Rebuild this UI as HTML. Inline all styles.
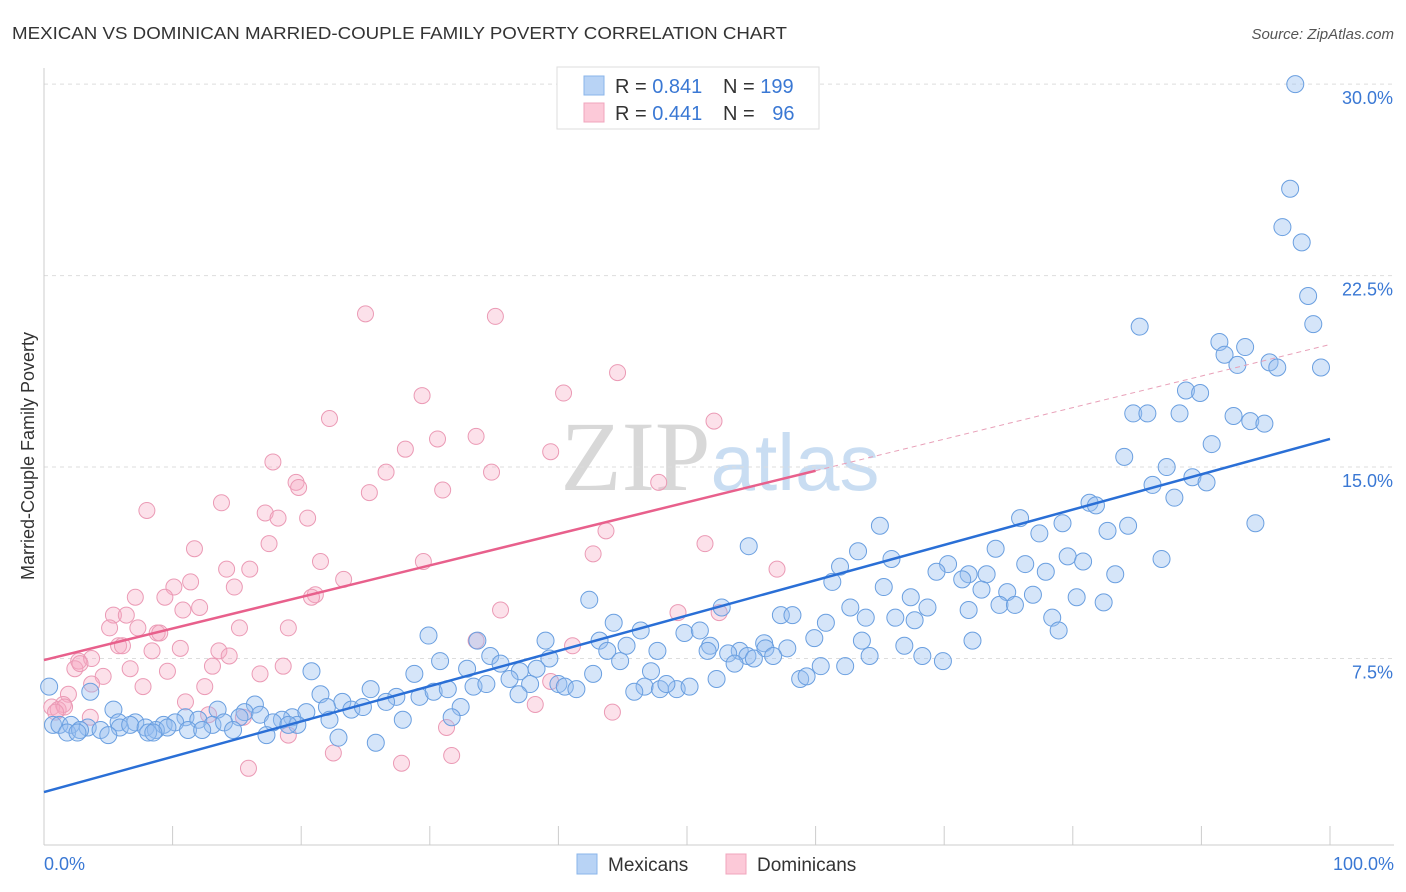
<!DOCTYPE html>
<html><head><meta charset="utf-8"><style>
body{margin:0;background:#fff;font-family:"Liberation Sans",sans-serif;}
</style></head><body>
<svg id="chart" width="1406" height="892" xmlns="http://www.w3.org/2000/svg" style="display:block">
<text x="12" y="39" font-size="17.5" fill="#333" textLength="775" lengthAdjust="spacingAndGlyphs">MEXICAN VS DOMINICAN MARRIED-COUPLE FAMILY POVERTY CORRELATION CHART</text>
<text x="1394" y="39" font-size="15" fill="#555" font-style="italic" text-anchor="end">Source: ZipAtlas.com</text>
<text x="720" y="490" font-size="100" fill="#ddd" text-anchor="middle" font-family="Liberation Serif"><tspan fill="#d8d8d8">ZIP</tspan><tspan font-family="Liberation Sans" fill="#c9ddf2" font-size="80">atlas</tspan></text>
<text transform="translate(34,456) rotate(-90)" font-size="18" fill="#333" text-anchor="middle">Married-Couple Family Poverty</text>
<g id="grid"></g><g id="axes"></g><g id="pink"></g><g id="blue"></g><g id="lines"></g>
<g>
<rect x="557" y="67" width="262" height="62" fill="#fff" stroke="#ddd"/>
<rect x="584" y="76" width="20" height="19" fill="#b8d3f5" stroke="#8ab4ea"/>
<rect x="584" y="103" width="20" height="19" fill="#fcc9d8" stroke="#f0a5bd"/>
<text x="615" y="93" font-size="20" fill="#333">R = <tspan fill="#3a78d4">0.841</tspan></text>
<text x="723" y="93" font-size="20" fill="#333">N = <tspan fill="#3a78d4">199</tspan></text>
<text x="615" y="120" font-size="20" fill="#333">R = <tspan fill="#3a78d4">0.441</tspan></text>
<text x="723" y="120" font-size="20" fill="#333" xml:space="preserve">N = <tspan fill="#3a78d4" dx="12">96</tspan></text>
</g>
<g>
<rect x="577" y="854" width="20" height="20" fill="#b8d3f5" stroke="#8ab4ea"/>
<text x="608" y="871" font-size="19" fill="#333">Mexicans</text>
<rect x="726" y="854" width="20" height="20" fill="#fcc9d8" stroke="#f0a5bd"/>
<text x="757" y="871" font-size="19" fill="#333">Dominicans</text>
</g>
</svg>
<script>
const yTicks=[7.5,15,22.5,30];
const yTickLabels=["7.5%","15.0%","22.5%","30.0%"];
const xTickLabels=["0.0%","100.0%"];
const blueTrend=[2.27,16.1];
const pinkTrend=[7.44,19.8];
const blueX=[97.3,96.9,96.3,97.8,98.3,98.7,85.2,91.4,93.4,91.8,92.8,95.3,95.9,99.3,88.8,89.9,84.7,85.8,88.3,92.5,93.8,94.9,90.8,84.0,87.3,89.3,90.4,86.2,87.9,81.3,81.8,94.2,75.9,79.2,84.3,82.7,65.0,77.4,54.8,63.3,65.9,74.0,79.6,80.8,86.9,76.3,61.9,70.3,69.4,71.9,73.3,77.9,83.3,61.3,71.4,65.3,72.9,74.9,76.9,67.4,80.3,82.4,42.4,74.3,75.5,62.7,68.7,71.9,52.7,57.3,58.2,63.9,66.2,67.7,78.4,60.8,44.3,46.4,49.8,51.0,78.9,29.9,33.7,39.0,43.2,45.3,51.8,56.0,59.9,63.6,72.2,66.9,54.1,56.1,57.8,51.6,53.2,54.7,34.7,43.8,47.7,56.7,55.2,35.5,30.8,39.3,44.8,53.7,64.2,68.3,69.9,20.8,28.8,32.9,37.0,38.3,42.7,47.2,60.4,62.3,36.2,37.8,40.0,40.5,33.4,34.4,41.4,46.7,47.9,49.2,50.2,52.3,58.8,59.3,0.4,45.9,48.4,3.6,21.5,25.4,27.4,29.2,30.3,31.4,36.9,5.4,16.4,23.2,26.6,15.6,19.3,20.4,22.0,23.9,24.8,32.4,11.0,13.5,15.2,16.8,18.5,19.7,22.2,27.9,31.7,5.8,7.1,9.3,10.2,12.0,13.1,14.0,17.8,19.0,0.7,1.2,2.1,3.4,5.9,6.7,7.9,8.7,9.6,11.2,12.3,14.7,1.8,2.8,4.4,8.1,2.6,5.0,8.5,17.3,22.9,25.8];
const blueY=[30.0,25.9,24.4,23.8,21.7,20.6,20.5,19.9,19.7,19.4,19.0,19.1,18.9,18.9,18.0,17.9,17.1,17.1,17.1,17.0,16.8,16.7,15.9,15.4,15.0,14.6,14.4,14.3,13.8,13.6,13.5,12.8,13.0,12.8,12.7,12.5,12.7,12.4,11.9,11.7,11.4,11.8,11.5,11.3,11.4,11.2,11.1,11.2,10.9,10.8,10.8,10.9,10.8,10.5,10.6,10.3,10.2,10.1,10.0,9.9,9.9,9.7,9.8,9.6,9.6,9.5,9.5,9.4,9.5,9.2,9.2,9.1,9.1,9.0,9.1,8.9,8.9,8.6,8.5,8.6,8.6,8.4,8.2,8.2,8.2,8.0,8.0,8.1,8.3,8.2,8.2,8.0,7.8,7.9,7.9,7.8,7.7,7.6,7.6,7.8,7.8,7.6,7.5,7.3,7.4,7.5,7.4,7.3,7.6,7.6,7.4,7.0,6.9,7.1,7.0,7.1,6.9,7.0,7.2,7.2,6.7,6.5,6.5,6.4,6.4,6.5,6.3,6.4,6.3,6.3,6.4,6.7,6.7,6.8,6.4,6.2,6.5,6.2,6.1,6.3,6.0,6.0,6.2,6.3,6.1,5.5,5.7,5.8,5.8,5.4,5.2,5.4,5.6,5.5,5.6,5.6,5.2,5.5,5.2,5.3,5.1,4.9,5.1,5.1,5.2,5.0,5.0,4.9,5.0,5.1,4.9,5.0,5.0,4.9,4.9,4.9,4.9,4.8,4.8,4.9,4.8,4.7,4.8,4.7,4.7,4.7,4.6,4.7,4.7,4.6,4.6,4.5,4.6,4.5,4.4,4.2];
const pinkX=[25.0,35.1,44.6,40.4,29.4,22.2,52.1,30.6,33.6,28.1,39.4,17.8,26.6,34.8,19.6,19.8,47.8,25.3,31.0,13.8,8.0,17.2,18.2,20.5,43.7,17.5,51.4,11.7,42.7,21.5,29.5,14.2,16.0,57.0,11.4,23.3,10.1,14.8,21.1,7.1,9.4,20.8,10.8,12.1,5.4,6.4,35.5,49.3,52.5,5.1,7.3,15.2,19.0,8.8,9.0,33.6,5.8,6.1,10.6,13.6,41.1,8.4,14.4,2.7,3.7,2.4,2.8,6.7,9.6,13.1,18.6,4.6,3.7,16.8,7.7,12.5,39.4,1.9,11.0,38.2,1.5,0.6,1.1,1.6,0.9,3.6,12.8,15.5,44.2,19.0,31.3,22.5,31.7,27.8,15.9];
const pinkY=[21.0,20.9,18.7,17.9,17.8,16.9,16.8,16.1,16.2,15.7,15.6,15.2,14.8,14.8,14.4,14.2,14.4,14.0,14.1,13.6,13.3,13.2,13.0,13.0,12.5,12.0,12.0,11.8,11.6,11.3,11.3,11.0,11.0,11.0,10.5,10.6,10.3,10.3,10.0,9.9,9.9,9.9,9.4,9.5,9.2,9.2,9.4,9.3,9.3,8.7,8.7,8.7,8.7,8.5,8.5,8.2,8.0,8.0,7.9,7.8,8.0,7.8,7.6,7.4,7.5,7.1,7.3,7.1,7.0,7.2,7.2,6.8,6.5,6.9,6.4,6.4,6.6,6.1,5.8,5.7,5.7,5.6,5.5,5.6,5.4,5.2,5.3,5.2,5.4,4.5,4.8,3.8,3.7,3.4,3.2];
const NS="http://www.w3.org/2000/svg";
const X=v=>44+v*12.86, Y=v=>850-v*25.53;
function mk(t,a,p){const e=document.createElementNS(NS,t);for(const k in a)e.setAttribute(k,a[k]);document.getElementById(p).appendChild(e);return e;}
yTicks.forEach((t,i)=>{
 const g=mk('line',{x1:44,x2:1394,y1:Y(t),y2:Y(t),stroke:'#ddd','stroke-dasharray':'4,4'},'grid');
 
 
 const l=mk('text',{x:1393,y:Y(t)+20,'font-size':18,fill:'#3a78d4','text-anchor':'end'},'axes');
 l.textContent=yTickLabels[i];
 
 
});
const ax=mk('line',{x1:44,x2:1394,y1:845,y2:845,stroke:'#ccc'},'axes');


const ay=mk('line',{x1:44,x2:44,y1:68,y2:845,stroke:'#ccc'},'axes');


for(let i=0;i<=10;i++){const tk=mk('line',{x1:X(i*10),x2:X(i*10),y1:826,y2:845,stroke:'#ccc'},'axes');
 
 }
[[0,'start',44],[1,'end',1394]].forEach(([i,a,x])=>{const t=mk('text',{x:x,y:870,'font-size':18,fill:'#3a78d4','text-anchor':a},'axes');t.textContent=xTickLabels[i];
 
 });
pinkX.forEach((x,i)=>{const c=mk('circle',{cx:X(x),cy:Y(pinkY[i]),r:8,fill:'rgba(245,170,195,0.35)',stroke:'#eb9ab5','stroke-width':1},'pink');
 
 });
blueX.forEach((x,i)=>{const c=mk('circle',{cx:X(x),cy:Y(blueY[i]),r:8.5,fill:'rgba(150,190,240,0.4)',stroke:'#6a9fe0','stroke-width':1},'blue');
 
 });
const pAt=v=>pinkTrend[0]+(pinkTrend[1]-pinkTrend[0])*v/100;
const l1=mk('line',{x1:X(0),y1:Y(blueTrend[0]),x2:X(100),y2:Y(blueTrend[1]),stroke:'#2a6fd6','stroke-width':2.5},'lines');


const l2=mk('line',{x1:X(0),y1:Y(pAt(0)),x2:X(60),y2:Y(pAt(60)),stroke:'#e8608c','stroke-width':2.5},'lines');


const l3=mk('line',{x1:X(60),y1:Y(pAt(60)),x2:X(100),y2:Y(pAt(100)),stroke:'#e8a0b8','stroke-width':1,'stroke-dasharray':'5,4'},'lines');


</script>
</body></html>
